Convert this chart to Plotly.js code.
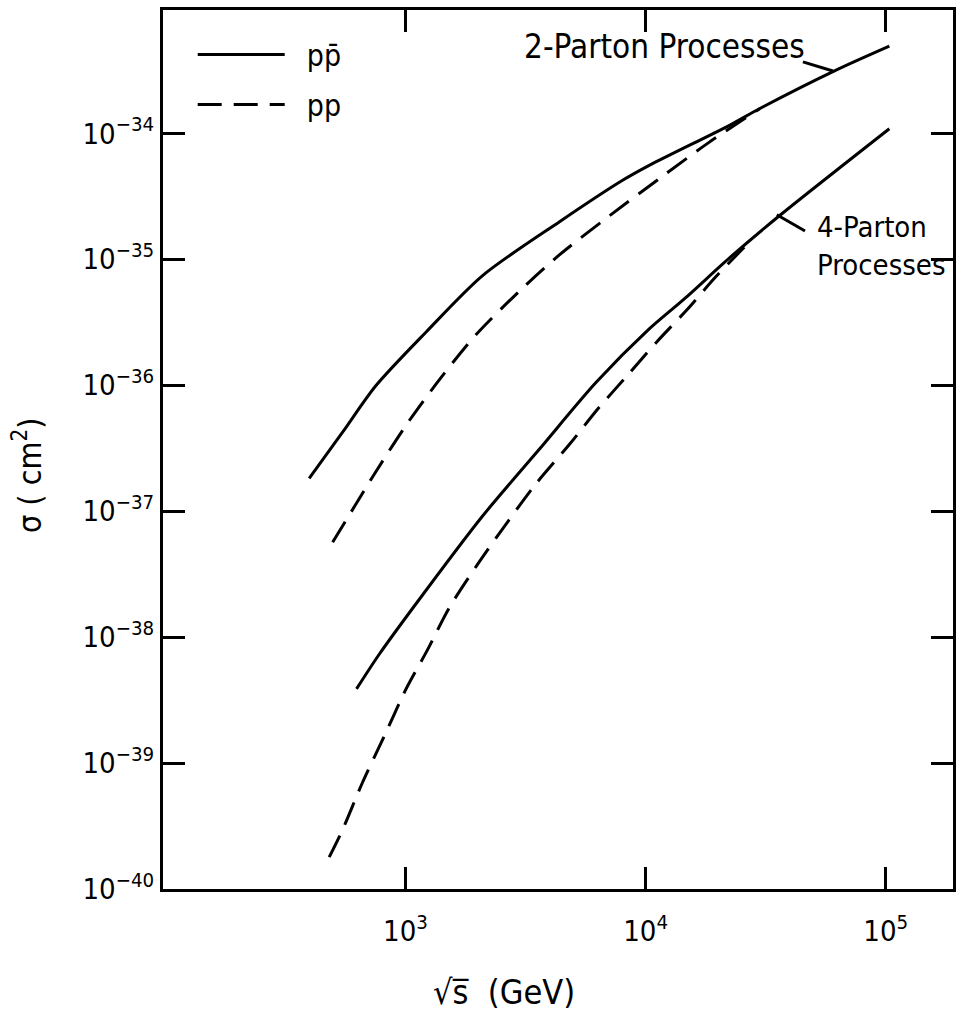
<!DOCTYPE html>
<html>
<head>
<meta charset="utf-8">
<script src="https://cdn.plot.ly/plotly-3.0.1.min.js"></script>
<style>html,body{margin:0;padding:0;background:#fff;}#chart{width:958px;height:1015px;}</style>
</head>
<body>
<div id="chart"></div>
<script>
// sqrt(s) in GeV, sigma in cm^2
const xPpbar2 = [397, 546, 752, 1216, 2094, 4365, 8017, 10350, 22340, 29790, 62090, 103500];
const yPpbar2 = [1.82e-37, 4.22e-37, 9.91e-37, 2.64e-36, 7.43e-36, 1.98e-35, 4.24e-35, 5.57e-35, 1.16e-34, 1.57e-34, 3.18e-34, 4.93e-34];

const xPp2 = [497, 562, 750, 1019, 1400, 1977, 2985, 4385, 7079, 11990, 18300, 29850];
const yPp2 = [5.66e-38, 8.32e-38, 2.04e-37, 5.0e-37, 1.14e-36, 2.55e-36, 5.61e-36, 1.09e-35, 2.22e-35, 4.70e-35, 8.45e-35, 1.57e-34];

const xPpbar4 = [625, 776, 1140, 2094, 3606, 6209, 10350, 14490, 22650, 36060, 103500];
const yPpbar4 = [3.88e-39, 7.28e-39, 1.99e-38, 9.16e-38, 3.10e-37, 1.05e-36, 2.80e-36, 4.85e-36, 1.05e-35, 2.22e-35, 1.09e-34];

const xPp4 = [481, 546, 662, 815, 1002, 1236, 1521, 1995, 2636, 3483, 4819, 6368, 8337, 11120, 14830, 19590, 27100];
const yPp4 = [1.79e-40, 2.94e-40, 7.01e-40, 1.63e-39, 3.83e-39, 7.96e-39, 1.71e-38, 3.78e-38, 8.02e-38, 1.64e-37, 3.40e-37, 6.59e-37, 1.18e-36, 2.21e-36, 3.96e-36, 7.26e-36, 1.38e-35];

const xTickVals = [1e3, 1e4, 1e5];
const xTickText = ['10<sup>3</sup>', '10<sup>4</sup>', '10<sup>5</sup>'];
const yTickVals = [1e-40, 1e-39, 1e-38, 1e-37, 1e-36, 1e-35, 1e-34];
const yTickText = ['10<sup>−40</sup>', '10<sup>−39</sup>', '10<sup>−38</sup>', '10<sup>−37</sup>', '10<sup>−36</sup>', '10<sup>−35</sup>', '10<sup>−34</sup>'];

const FONT = "'Liberation Sans Narrow', 'DejaVu Sans Condensed', 'DejaVu Sans', sans-serif";
const solid = {color: '#000', width: 3, shape: 'spline', smoothing: 0.8};
const dashed = {color: '#000', width: 3, shape: 'spline', smoothing: 0.8, dash: '24px,12px'};

const traces = [
  {x: xPpbar2, y: yPpbar2, mode: 'lines', name: '\u00a0\u00a0pp\u0304', line: solid, legendgroup: 'a', showlegend: true},
  {x: xPp2, y: yPp2, mode: 'lines', name: '\u00a0\u00a0pp', line: dashed, legendgroup: 'b', showlegend: true},
  {x: xPpbar4, y: yPpbar4, mode: 'lines', name: 'pp\u0304 4-parton', line: solid, legendgroup: 'a', showlegend: false},
  {x: xPp4, y: yPp4, mode: 'lines', name: 'pp 4-parton', line: dashed, legendgroup: 'b', showlegend: false}
];

const axisCommon = {
  type: 'log', showline: true, linecolor: '#000', linewidth: 3, mirror: 'allticks',
  ticks: 'inside', ticklen: 22, tickwidth: 3, tickcolor: '#000', showgrid: false, zeroline: false,
  tickfont: {family: FONT, size: 29, color: '#000'}
};

const layout = {
  width: 958, height: 1015,
  margin: {l: 163, r: 5, t: 10, b: 126},
  paper_bgcolor: '#fff', plot_bgcolor: '#fff',
  font: {family: FONT, color: '#000'},
  xaxis: Object.assign({}, axisCommon, {range: [1.99, 5.28], tickmode: 'array', tickvals: xTickVals, ticktext: xTickText, ticklabelstandoff: 14}),
  yaxis: Object.assign({}, axisCommon, {range: [-40, -33.02], tickmode: 'array', tickvals: yTickVals, ticktext: yTickText, ticklabelstandoff: 0}),
  showlegend: true,
  legend: {x: 0.0376, y: 0.979, xanchor: 'left', yanchor: 'top', bgcolor: 'rgba(0,0,0,0)', borderwidth: 0,
           font: {family: FONT, size: 30, color: '#000'}, itemwidth: 87, tracegroupgap: 8, traceorder: 'grouped'},
  annotations: [
    {xref: 'paper', yref: 'paper', x: 0.454, y: 0.959, xanchor: 'left', yanchor: 'middle', showarrow: false,
     text: '2-Parton Processes', font: {family: FONT, size: 33, color: '#000'}},
    {xref: 'paper', yref: 'paper', x: 0.825, y: 0.7315, xanchor: 'left', yanchor: 'middle', showarrow: false, align: 'left',
     text: '4-Parton<br>Processes', font: {family: FONT, size: 29, color: '#000'}},
    {xref: 'paper', yref: 'paper', x: -0.172, y: 0.471, xanchor: 'center', yanchor: 'middle', showarrow: false, textangle: -90,
     text: 'σ ( cm<sup>2</sup>)', font: {family: FONT, size: 32, color: '#000'}},
    {xref: 'paper', yref: 'paper', x: 0.432, y: -0.117, xanchor: 'center', yanchor: 'middle', showarrow: false,
     text: '√s\u0305  (GeV)', font: {family: FONT, size: 34, color: '#000'}}
  ],
  shapes: [
    {type: 'line', xref: 'paper', yref: 'paper', x0: 0.810, y0: 0.941, x1: 0.848, y1: 0.9306, line: {color: '#000', width: 3}},
    {type: 'line', xref: 'paper', yref: 'paper', x0: 0.777, y0: 0.767, x1: 0.8127, y1: 0.7486, line: {color: '#000', width: 3}}
  ]
};

Plotly.newPlot('chart', traces, layout, {displayModeBar: false, staticPlot: true});
</script>
</body>
</html>
